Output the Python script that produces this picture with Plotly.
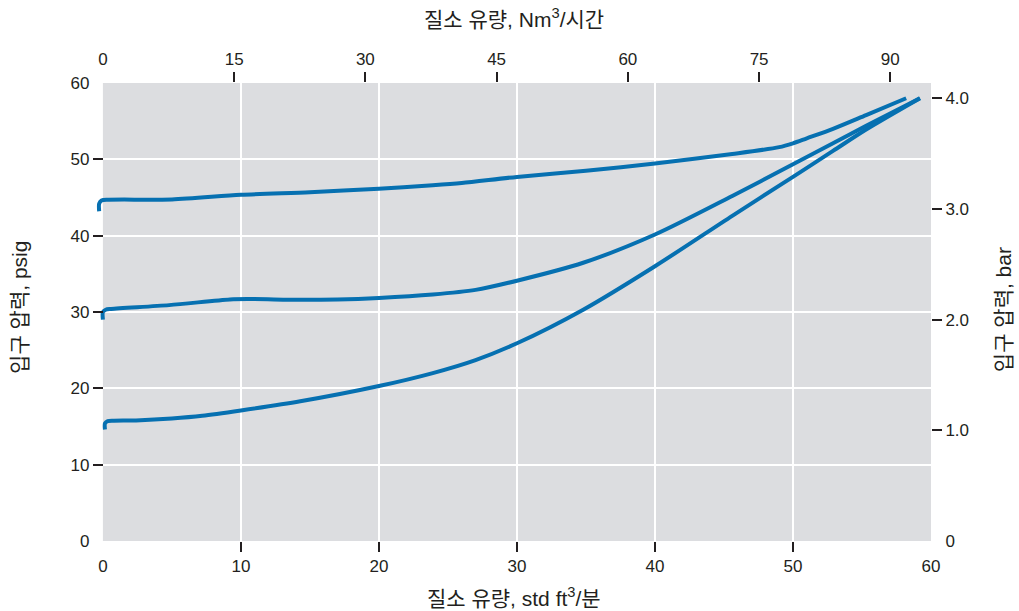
import plotly.graph_objects as go

# ---- data ----
flow_high = [-0.27, -0.27, -0.1, 0.4, 5, 10, 15, 20, 23.9, 26, 30, 35, 40, 45.6, 49, 50, 51, 52.9, 55.3, 58.2]
psig_high = [43.2, 44.2, 44.6, 44.7, 44.75, 45.35, 45.7, 46.15, 46.6, 46.9, 47.7, 48.5, 49.45, 50.7, 51.6, 52.1, 52.75, 54.0, 55.8, 58.0]

flow_mid = [0.0, 0.0, 0.2, 0.6, 4.8, 9.2, 10.5, 14.3, 17, 20, 23.9, 27, 30, 34.8, 40, 45.6, 50, 52.9, 55.3, 59.2]
psig_mid = [29.0, 30.0, 30.3, 30.4, 30.9, 31.65, 31.7, 31.6, 31.65, 31.85, 32.3, 32.9, 34.1, 36.45, 40.15, 45.2, 49.35, 52.1, 54.4, 58.0]

flow_low = [0.15, 0.15, 0.35, 0.8, 2.4, 5, 7.2, 10, 14.3, 20, 23.9, 27, 30, 34.8, 40, 45.6, 50, 52.9, 55.3, 59.2]
psig_low = [14.6, 15.4, 15.7, 15.75, 15.8, 16.05, 16.4, 17.1, 18.3, 20.3, 22.0, 23.7, 25.9, 30.3, 36.0, 42.6, 47.7, 51.1, 53.9, 58.0]

scfm_ticks = [0, 10, 20, 30, 40, 50, 60]
psig_ticks = [0, 10, 20, 30, 40, 50, 60]
nm3h_ticks = [0, 15, 30, 45, 60, 75, 90]
bar_ticks = [0, 1, 2, 3, 4]
bar_labels = ["0", "1.0", "2.0", "3.0", "4.0"]

X_MIN = -0.5          # small room left of the panel for the curve start hooks
X_MAX = 60
Y_MAX = 60
NM3H_PER_SCFM = 1.5775
PSI_PER_BAR = 14.5038

LINE_COLOR = "#0670b1"
PANEL = "#dcdde0"
FONT = "Liberation Sans, Arial, Noto Sans CJK KR, sans-serif"
TXT = "#231f20"

fig = go.Figure()
for xs, ys in [(flow_high, psig_high), (flow_mid, psig_mid), (flow_low, psig_low)]:
    fig.add_trace(go.Scatter(
        x=xs, y=ys, mode="lines",
        line=dict(color=LINE_COLOR, width=4, shape="spline", smoothing=0.8),
        showlegend=False, hoverinfo="skip",
    ))

# invisible traces to activate the secondary axes
fig.add_trace(go.Scatter(x=[0], y=[None], xaxis="x2", yaxis="y", showlegend=False, hoverinfo="skip"))
fig.add_trace(go.Scatter(x=[None], y=[0], xaxis="x", yaxis="y2", showlegend=False, hoverinfo="skip"))

# gray panel covering the 0..60 x 0..60 data region
fig.add_shape(type="rect", xref="x", yref="y", x0=0, x1=X_MAX, y0=0, y1=Y_MAX,
              fillcolor=PANEL, line=dict(width=0), layer="below")

tickfont = dict(family=FONT, size=17, color=TXT)
common_minor = dict(ticks="outside", ticklen=10, tickwidth=1.5, tickcolor=TXT)

fig.update_layout(
    width=1019, height=611,
    margin=dict(l=96, r=88, t=83, b=70),
    paper_bgcolor="white",
    plot_bgcolor="white",
    font=dict(family=FONT, color=TXT),
    xaxis=dict(
        range=[X_MIN, X_MAX], tickmode="array", tickvals=scfm_ticks,
        ticks="outside", ticklen=10, tickcolor="rgba(0,0,0,0)",
        showgrid=False, zeroline=False, showline=False, tickfont=tickfont,
        minor=dict(tickmode="array", tickvals=scfm_ticks[1:-1], showgrid=True,
                   gridcolor="white", gridwidth=1.5, **common_minor),
    ),
    yaxis=dict(
        range=[0, Y_MAX], tickmode="array", tickvals=psig_ticks,
        anchor="free", position=(0 - X_MIN) / (X_MAX - X_MIN),
        ticks="outside", ticklen=10, tickcolor="rgba(0,0,0,0)",
        showgrid=False, zeroline=False, showline=False, tickfont=tickfont,
        minor=dict(tickmode="array", tickvals=psig_ticks[1:-1], showgrid=True,
                   gridcolor="white", gridwidth=1.5, **common_minor),
    ),
    xaxis2=dict(
        overlaying="x", side="top",
        range=[X_MIN * NM3H_PER_SCFM, X_MAX * NM3H_PER_SCFM],
        tickmode="array", tickvals=nm3h_ticks,
        ticks="outside", ticklen=10, tickcolor="rgba(0,0,0,0)",
        showgrid=False, zeroline=False, showline=False, tickfont=tickfont,
        minor=dict(tickmode="array", tickvals=nm3h_ticks[1:], showgrid=False, **common_minor),
    ),
    yaxis2=dict(
        overlaying="y", side="right", range=[0, Y_MAX / PSI_PER_BAR],
        tickmode="array", tickvals=bar_ticks, ticktext=bar_labels,
        ticks="outside", ticklen=10, tickcolor="rgba(0,0,0,0)",
        showgrid=False, zeroline=False, showline=False, tickfont=tickfont,
        minor=dict(tickmode="array", tickvals=bar_ticks[1:], showgrid=False, **common_minor),
    ),
)

title_font = dict(family=FONT, size=21, color=TXT)
fig.add_annotation(text="질소 유량, std ft<sup>3</sup>/분", xref="paper", yref="paper",
                   x=0.5, y=0, yshift=-56, xanchor="center", yanchor="middle",
                   showarrow=False, font=title_font)
fig.add_annotation(text="질소 유량, Nm<sup>3</sup>/시간", xref="paper", yref="paper",
                   x=0.5, y=1, yshift=65, xanchor="center", yanchor="middle",
                   showarrow=False, font=title_font)
fig.add_annotation(text="입구 압력, psig", xref="paper", yref="paper",
                   x=0, y=0.509, xshift=-76, xanchor="center", yanchor="middle",
                   textangle=-90, showarrow=False, font=title_font)
fig.add_annotation(text="입구 압력, bar", xref="paper", yref="paper",
                   x=1, y=0.504, xshift=72, xanchor="center", yanchor="middle",
                   textangle=-90, showarrow=False, font=title_font)

fig.write_html(
    "out.html",
    config={"displayModeBar": False},
    post_script="document.body.style.margin='0';document.body.style.overflow='hidden';",
)
